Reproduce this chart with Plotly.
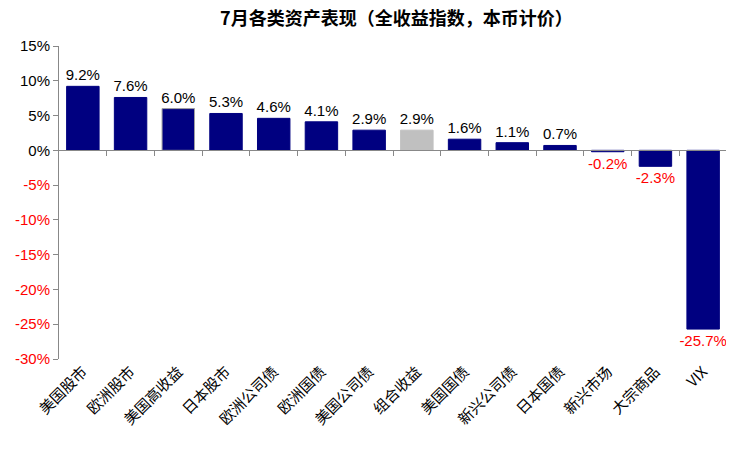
import plotly.graph_objects as go

categories = ["美国股市", "欧洲股市", "美国高收益", "日本股市", "欧洲公司债", "欧洲国债", "美国公司债",
              "组合收益", "美国国债", "新兴公司债", "日本国债", "新兴市场", "大宗商品", "VIX"]
returns = [9.2, 7.6, 6.0, 5.3, 4.6, 4.1, 2.9, 2.9, 1.6, 1.1, 0.7, -0.2, -2.3, -25.7]
y_ticks = [15, 10, 5, 0, -5, -10, -15, -20, -25, -30]

NAVY = "#000080"
GREY = "#C0C0C0"
RED = "#FF0000"
FONT = "Liberation Sans, Noto Sans CJK SC, Arial, sans-serif"
CJK = "Noto Sans CJK SC, sans-serif"

bar_colors = [GREY if c == "组合收益" else NAVY for c in categories]
line_colors = ["#A0A0A0" if c == "美国高收益" else bc for c, bc in zip(categories, bar_colors)]
text_colors = [RED if v < 0 else "black" for v in returns]

fig = go.Figure()
fig.add_trace(go.Bar(
    x=categories,
    y=returns,
    marker=dict(color=bar_colors, line=dict(color=line_colors, width=1)),
    text=[f"{v:.1f}%" for v in returns],
    textposition="outside",
    textfont=dict(size=15, color=text_colors, family=FONT),
    constraintext="none",
    cliponaxis=False,
    width=0.68,
))

# zero line axis with ticks between categories
fig.add_trace(go.Scatter(x=[0], y=[0], xaxis="x2", mode="markers",
                         marker=dict(opacity=0), showlegend=False, hoverinfo="skip"))

tick_text = [f"<span style='color:{RED}'>{t}%</span>" if t < 0 else f"{t}%" for t in y_ticks]

# page body has an 8px margin, so the figure is shrunk by that much
fig.update_layout(
    width=726,
    height=441,
    margin=dict(l=49, r=7, t=38, b=90),
    plot_bgcolor="white",
    paper_bgcolor="white",
    showlegend=False,
    title=dict(text="<b>7月各类资产表现（全收益指数，本币计价）</b>", x=0.505, xref="paper",
               y=0.99, yref="container", yanchor="top", pad=dict(t=0),
               font=dict(size=18, color="black", family=CJK)),
    xaxis=dict(
        tickangle=-45,
        showline=False,
        ticks="",
        tickfont=dict(size=15, color="black", family=CJK),
        range=[-0.5, 13.5],
    ),
    xaxis2=dict(
        overlaying="x",
        anchor="free",
        position=30 / 45,
        range=[-0.5, 13.5],
        showline=True,
        linecolor="#888888",
        linewidth=1,
        ticks="outside",
        tickcolor="#888888",
        ticklen=5,
        tickvals=[i + 0.5 for i in range(13)],
        showticklabels=False,
        showgrid=False,
        zeroline=False,
    ),
    yaxis=dict(
        range=[-30, 15],
        tickvals=y_ticks,
        ticktext=tick_text,
        showline=True,
        linecolor="#888888",
        ticks="outside",
        tickcolor="#888888",
        ticklen=5,
        showgrid=False,
        zeroline=False,
        tickfont=dict(size=15, color="black", family=FONT),
    ),
)

fig.write_html("out.html")
